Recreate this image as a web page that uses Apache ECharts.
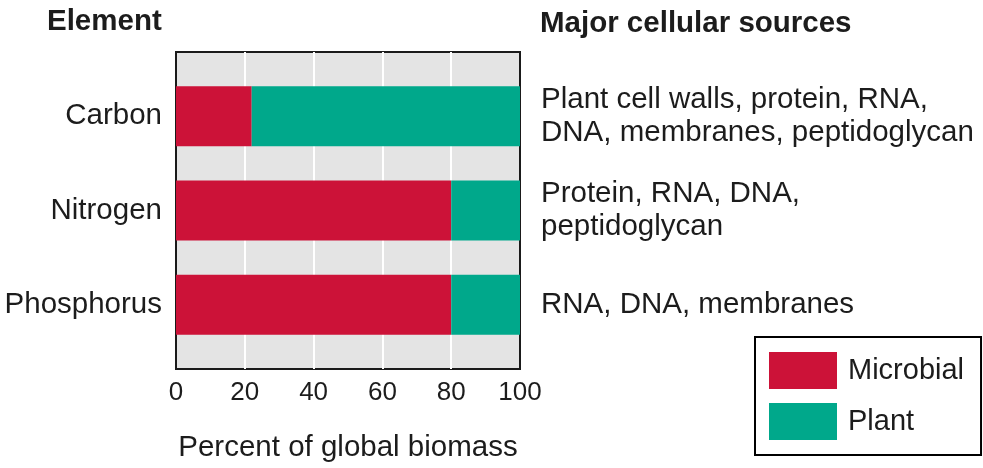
<!DOCTYPE html>
<html>
<head>
<meta charset="utf-8">
<style>
  html, body { margin: 0; padding: 0; background: #fff; }
  #chart { width: 983px; height: 468px; }
</style>
<script src="https://cdn.jsdelivr.net/npm/echarts@6/dist/echarts.min.js"></script>
</head>
<body>
<div id="chart"></div>
<script>
// categories and values
var elements = ['Carbon', 'Nitrogen', 'Phosphorus'];
var sources = [
  'Plant cell walls, protein, RNA,\nDNA, membranes, peptidoglycan',
  'Protein, RNA, DNA,\npeptidoglycan',
  'RNA, DNA, membranes'
];
var microbial = [22, 80, 80];
var plant = [78, 20, 20];

var font = "'Liberation Sans', Arial, sans-serif";
var ink = '#1c1c1c';

var chart = echarts.init(document.getElementById('chart'));

var option = {
  backgroundColor: '#fff',
  animation: false,
  textStyle: { fontFamily: font },
  graphic: [
    { type: 'text', left: 47, top: 7, style: { text: 'Element', font: 'bold 29.5px ' + font, fill: ink } },
    { type: 'text', left: 540, top: 9, style: { text: 'Major cellular sources', font: 'bold 29.5px ' + font, fill: ink } }
  ],
  legend: {
    orient: 'vertical',
    left: 755,
    top: 337,
    padding: [15, 17, 15, 14],
    borderColor: '#000',
    borderWidth: 2,
    itemWidth: 68,
    itemHeight: 37,
    itemGap: 14,
    icon: 'rect',
    selectedMode: false,
    textStyle: { fontSize: 29, color: ink, fontFamily: font, padding: [0, 0, 0, 6] },
    data: ['Microbial', 'Plant']
  },
  grid: [
    // bars
    { left: 176, right: 463, top: 69, bottom: 116 },
    // grey panel with white lines
    { left: 176, right: 463, top: 52, bottom: 98, show: true,
      backgroundColor: '#e4e4e4', borderColor: '#1a1a1a', borderWidth: 2, z: 0 }
  ],
  xAxis: [
    { gridIndex: 0, type: 'value', min: 0, max: 100, show: false },
    { gridIndex: 1, type: 'value', min: 0, max: 100, interval: 20,
      axisLine: { show: false }, axisTick: { show: false },
      splitLine: { show: true, showMinLine: false, showMaxLine: false,
        lineStyle: { color: '#fff', width: 2 } },
      axisLabel: { fontSize: 26, color: ink, margin: 11 },
      name: 'Percent of global biomass', nameLocation: 'middle', nameGap: 64,
      nameTextStyle: { fontSize: 29.5, color: ink } }
  ],
  yAxis: [
    { gridIndex: 0, type: 'category', data: elements, inverse: true,
      axisLine: { show: false }, axisTick: { show: false }, splitLine: { show: false },
      axisLabel: { fontSize: 29.5, color: ink, margin: 14 } },
    { gridIndex: 0, type: 'category', data: sources, inverse: true, position: 'right',
      axisLine: { show: false }, axisTick: { show: false }, splitLine: { show: false },
      axisLabel: { fontSize: 29.5, color: ink, margin: 21, align: 'left', lineHeight: 33 } },
    { gridIndex: 1, type: 'value', show: false }
  ],
  series: [
    { name: 'Microbial', type: 'bar', stack: 'total', xAxisIndex: 0, yAxisIndex: 0,
      barWidth: 60, data: microbial, itemStyle: { color: '#cc1238' }, z: 3 },
    { name: 'Plant', type: 'bar', stack: 'total', xAxisIndex: 0, yAxisIndex: 0,
      barWidth: 60, data: plant, itemStyle: { color: '#00a88b' }, z: 3 }
  ]
};

chart.setOption(option);
</script>
</body>
</html>
